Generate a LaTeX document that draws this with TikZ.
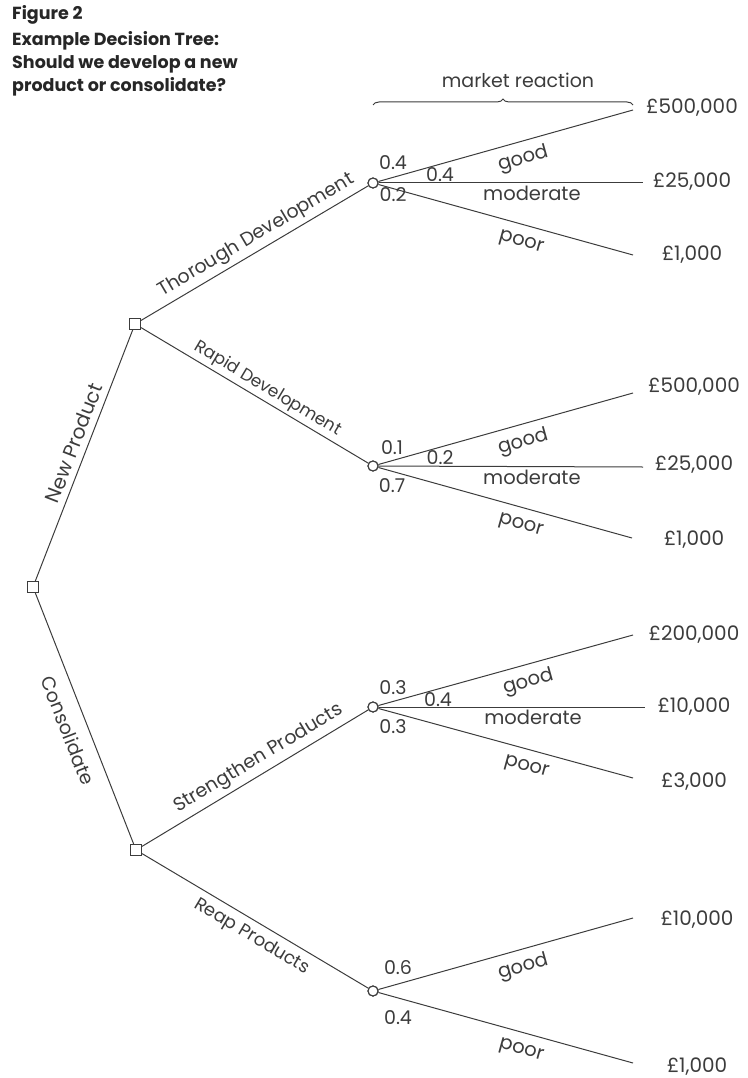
\documentclass[tikz,border=0pt]{standalone}
\usepackage{fontspec}
\setmainfont{Poppins}
\usetikzlibrary{decorations.pathreplacing,calc}
\definecolor{ink}{HTML}{3C3C3C}

\begin{document}
\begin{tikzpicture}[x=1pt,y=-1pt,
  decision/.style={draw=ink, line width=1.1pt, fill=white, rectangle, minimum size=11pt, inner sep=0pt},
  chance/.style={draw=ink, line width=1.1pt, fill=white, circle, minimum size=10pt, inner sep=0pt},
  branch/.style={draw=ink, line width=1pt},
  payoff/.style={text=ink, font=\fontsize{20}{20}\selectfont, inner sep=0pt},
  prob/.style={text=ink, font=\fontsize{19}{19}\selectfont, inner sep=0pt},
  outcome/.style={text=ink, font=\fontsize{19.5}{19.5}\selectfont, inner sep=0pt, sloped},
  choice/.style={text=ink, font=\fontsize{19}{19}\selectfont, inner sep=0pt, sloped},
  minor/.style={text=ink, font=\fontsize{17}{17}\selectfont, inner sep=0pt, sloped},
  heading/.style={font=\bfseries\fontsize{17.5}{17.5}\selectfont, anchor=base west, inner sep=0pt, text=black!85}
]
\useasboundingbox (0,0) rectangle (747,1078);

% title block
\node[heading] (fig) at (12,20) {Figure 2};
\node[heading] (t1) at (12,46) {Example Decision Tree:};
\node[heading] (t2) at (12,69) {Should we develop a new};
\node[heading] (t3) at (12,92) {product or consolidate?};

% decision and chance nodes
\node[decision] (root) at (33,587) {};
\node[decision] (dU) at (135,324) {};
\node[decision] (dL) at (136,850) {};
\node[chance] (cT) at (373,183) {};
\node[chance] (cR) at (373,466) {};
\node[chance] (cS) at (373,707) {};
\node[chance] (cP) at (373,991) {};

% free ends of the outcome branches
\coordinate (tG) at (633,110); \coordinate (tM) at (643,183); \coordinate (tB) at (633,255);
\coordinate (rG) at (633,393); \coordinate (rM) at (643,467); \coordinate (rB) at (632,538);
\coordinate (sG) at (633,635); \coordinate (sM) at (645,707); \coordinate (sB) at (633,778);
\coordinate (pG) at (633,918); \coordinate (pB) at (633,1063);

% first-level choices
\draw[branch] (root) -- node[choice, font=\fontsize{20}{20}\selectfont, pos=0.53, above=6pt] {New Product} (dU);
\draw[branch] (root) -- node[choice, pos=0.52, below=12pt] {Consolidate} (dL);

% second-level choices
\draw[branch] (dU) -- node[choice, pos=0.54, above=4pt] {Thorough Development} (cT);
\draw[branch] (dU) -- node[minor, pos=0.53, above=3pt] {Rapid Development} (cR);
\draw[branch] (dL) -- node[choice, pos=0.55, above=4.5pt] {Strengthen Products} (cS);
\draw[branch] (dL) -- node[minor, font=\fontsize{18}{18}\selectfont, pos=0.52, below=6pt] {Reap Products} (cP);

% market reaction brace
\draw[ink, line width=1pt, decorate, decoration={brace, amplitude=6pt}] (373,105) -- (633,105);
\node[text=ink, font=\fontsize{19}{19}\selectfont, inner sep=0pt] (mr) at (518,80) {market reaction};

% outcomes after thorough development
\draw[branch] (cT) -- node[outcome, pos=0.55, below=7.5pt] {good} (tG);
\draw[branch] (cT) -- node[outcome, pos=0.58, below=2.5pt, sloped=false] {moderate} (tM);
\draw[branch] (cT) -- node[outcome, pos=0.58, below=10pt] {poor} (tB);
\node[prob] (pT1) at ($(cT)+(20,-20)$) {0.4};
\node[prob] (pT2) at ($(cT)+(67,-8)$) {0.4};
\node[prob] (pT3) at ($(cT)+(20,12)$) {0.2};
\node[payoff] (vT1) at (692,108) {£500,000};
\node[payoff] (vT2) at (692,182) {£25,000};
\node[payoff] (vT3) at (692,255) {£1,000};

% outcomes after rapid development
\draw[branch] (cR) -- node[outcome, pos=0.55, below=7.5pt] {good} (rG);
\draw[branch] (cR) -- node[outcome, pos=0.58, below=2.5pt, sloped=false] {moderate} (rM);
\draw[branch] (cR) -- node[outcome, pos=0.58, below=10pt] {poor} (rB);
\node[prob] (pR1) at ($(cR)+(19,-18)$) {0.1};
\node[prob] (pR2) at ($(cR)+(67,-8)$) {0.2};
\node[prob] (pR3) at ($(cR)+(19,20)$) {0.7};
\node[payoff] (vR1) at (694,387) {£500,000};
\node[payoff] (vR2) at (694,465) {£25,000};
\node[payoff] (vR3) at (694,540) {£1,000};

% outcomes after strengthening products
\draw[branch] (cS) -- node[outcome, pos=0.57, below=7.5pt] {good} (sG);
\draw[branch] (cS) -- node[outcome, pos=0.58, below=2.5pt, sloped=false] {moderate} (sM);
\draw[branch] (cS) -- node[outcome, pos=0.6, below=10pt] {poor} (sB);
\node[prob] (pS1) at ($(cS)+(20,-19)$) {0.3};
\node[prob] (pS2) at ($(cS)+(65,-7)$) {0.4};
\node[prob] (pS3) at ($(cS)+(20,20)$) {0.3};
\node[payoff] (vS1) at (694,635) {£200,000};
\node[payoff] (vS2) at (694,707) {£10,000};
\node[payoff] (vS3) at (694,782) {£3,000};

% outcomes after reaping products
\draw[branch] (cP) -- node[outcome, pos=0.55, below=7.5pt] {good} (pG);
\draw[branch] (cP) -- node[outcome, pos=0.58, below=10pt] {poor} (pB);
\node[prob] (pP1) at ($(cP)+(25,-23)$) {0.6};
\node[prob] (pP2) at ($(cP)+(25,27)$) {0.4};
\node[payoff] (vP1) at (697,920) {£10,000};
\node[payoff] (vP2) at (697,1067) {£1,000};

% redraw the node symbols above the branch ends
\foreach \n in {root,dU,dL}{\node[decision] at (\n) {};}
\foreach \n in {cT,cR,cS,cP}{\node[chance] at (\n) {};}
\end{tikzpicture}
\end{document}
